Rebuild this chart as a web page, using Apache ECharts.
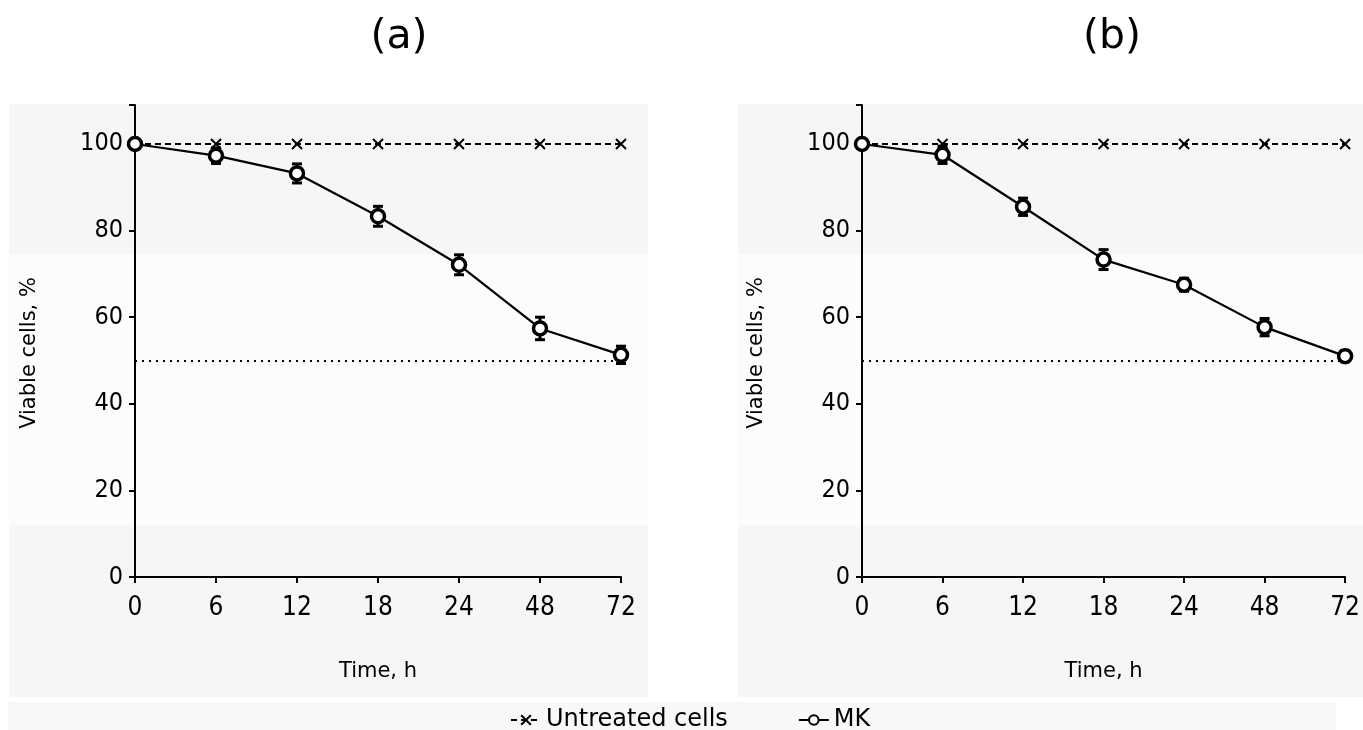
<!DOCTYPE html>
<html>
<head>
<meta charset="utf-8">
<script src="https://cdn.jsdelivr.net/npm/echarts@6/dist/echarts.min.js"></script>
<style>
  html, body { margin: 0; padding: 0; background: #fff; }
  #chart { width: 1363px; height: 730px; }
</style>
</head>
<body>
<div id="chart"></div>
<script>
// time points (h) and tick labels
const times = ['0', '6', '12', '18', '24', '48', '72'];
const yTicks = [0, 20, 40, 60, 80, 100];

// untreated control
const untreated = [100, 100, 100, 100, 100, 100, 100];

// panel (a) MK
const mkA = [100, 97.3, 93.2, 83.3, 72.1, 57.4, 51.3];
const errA = [0, 1.8, 2.2, 2.3, 2.3, 2.6, 2.0];

// panel (b) MK
const mkB = [100, 97.5, 85.5, 73.3, 67.5, 57.7, 51.0];
const errB = [0, 2.0, 2.0, 2.3, 1.5, 2.0, 1.3];

const halfLine = 50;

const myChart = echarts.init(document.getElementById('chart'));

const FONT = 'DejaVu Sans';
const NUMFONT = '"Liberation Sans Narrow", "DejaVu Sans Condensed", "Liberation Sans"';

function errData(mean, err) {
    return mean.map((v, i) => [i, v - err[i], v + err[i], err[i]]);
}

// draw error bar with caps
function renderErr(params, api) {
    if (api.value(3) === 0) return;
    const lo = api.coord([api.value(0), api.value(1)]);
    const hi = api.coord([api.value(0), api.value(2)]);
    const w = 5;
    const style = { stroke: '#000', lineWidth: 3 };
    return {
        type: 'group',
        children: [
            { type: 'line', shape: { x1: lo[0], y1: lo[1], x2: hi[0], y2: hi[1] }, style: style },
            { type: 'line', shape: { x1: lo[0] - w, y1: lo[1], x2: lo[0] + w, y2: lo[1] }, style: style },
            { type: 'line', shape: { x1: hi[0] - w, y1: hi[1], x2: hi[0] + w, y2: hi[1] }, style: style }
        ]
    };
}

function xAxisCfg(idx) {
    return {
        type: 'category',
        gridIndex: idx,
        data: times,
        boundaryGap: false,
        name: 'Time, h',
        nameLocation: 'middle',
        nameGap: 84,
        nameTextStyle: { color: '#000', fontSize: 21, fontFamily: FONT },
        axisLine: { lineStyle: { color: '#000', width: 2 } },
        axisTick: { show: true, alignWithLabel: true, length: 6, lineStyle: { color: '#000', width: 2 } },
        axisLabel: { color: '#000', fontSize: 26, fontFamily: NUMFONT, margin: 18 },
        splitLine: { show: false }
    };
}

function yAxisCfg(idx) {
    return {
        type: 'value',
        gridIndex: idx,
        min: 0,
        max: 109,
        interval: 20,
        name: 'Viable cells, %',
        nameLocation: 'middle',
        nameGap: 95,
        nameTextStyle: { color: '#000', fontSize: 21, fontFamily: FONT, padding: [0, 24, 0, 0] },
        axisLine: { show: true, lineStyle: { color: '#000', width: 2 } },
        axisTick: { show: true, length: 6, lineStyle: { color: '#000', width: 2 } },
        axisLabel: {
            color: '#000', fontSize: 25, fontFamily: NUMFONT, margin: 12,
            formatter: v => (yTicks.indexOf(v) >= 0 ? String(v) : '')
        },
        splitLine: { show: false }
    };
}

function seriesFor(idx, mk, err) {
    return [
        {
            name: 'Untreated cells',
            type: 'line',
            xAxisIndex: idx,
            yAxisIndex: idx,
            data: untreated,
            symbol: 'path://M0,0L10,10M10,0L0,10',
            symbolSize: 10,
            itemStyle: { color: '#000', borderColor: '#000', borderWidth: 2 },
            lineStyle: { color: '#000', width: 2, type: [6, 4] },
            z: 3
        },
        {
            name: 'errbar' + idx,
            type: 'custom',
            xAxisIndex: idx,
            yAxisIndex: idx,
            data: errData(mk, err),
            renderItem: renderErr,
            z: 4,
            silent: true
        },
        {
            name: 'MK',
            type: 'line',
            xAxisIndex: idx,
            yAxisIndex: idx,
            data: mk,
            symbol: 'circle',
            symbolSize: 13,
            itemStyle: { color: '#fff', borderColor: '#000', borderWidth: 3.5 },
            lineStyle: { color: '#000', width: 2.2 },
            z: 5,
            markLine: {
                silent: true,
                symbol: 'none',
                label: { show: false },
                lineStyle: { color: '#000', width: 2, type: [2, 5] },
                data: [{ yAxis: halfLine }]
            }
        }
    ];
}

const option = {
    backgroundColor: '#fff',
    animation: false,
    // grey panel backgrounds with faint bands
    graphic: [
        { type: 'rect', shape: { x: 9, y: 104, width: 639, height: 593 }, style: { fill: '#f6f6f6' }, z: -10 },
        { type: 'rect', shape: { x: 9, y: 254, width: 639, height: 271 }, style: { fill: '#fcfcfc' }, z: -9 },
        { type: 'rect', shape: { x: 738, y: 104, width: 625, height: 593 }, style: { fill: '#f6f6f6' }, z: -10 },
        { type: 'rect', shape: { x: 738, y: 254, width: 625, height: 271 }, style: { fill: '#fcfcfc' }, z: -9 },
        { type: 'rect', shape: { x: 8, y: 702, width: 1328, height: 28 }, style: { fill: '#f8f8f8' }, z: -10 }
    ],
    title: [
        { text: '(a)', left: 394, top: 12, textAlign: 'center', textStyle: { fontSize: 41, fontWeight: 'normal', fontFamily: FONT, color: '#000' } },
        { text: '(b)', left: 1107, top: 12, textAlign: 'center', textStyle: { fontSize: 41, fontWeight: 'normal', fontFamily: FONT, color: '#000' } }
    ],
    legend: {
        data: ['Untreated cells', 'MK'],
        left: 505,
        top: 703,
        itemWidth: 30,
        itemHeight: 12,
        itemGap: 70,
        textStyle: { color: '#000', fontSize: 24, fontFamily: FONT },
        selectedMode: false
    },
    grid: [
        { left: 135, top: 105, width: 486, height: 472 },
        { left: 862, top: 105, width: 488, height: 472 }
    ],
    xAxis: [xAxisCfg(0), xAxisCfg(1)],
    yAxis: [yAxisCfg(0), yAxisCfg(1)],
    series: [...seriesFor(0, mkA, errA), ...seriesFor(1, mkB, errB)]
};

myChart.setOption(option);
</script>
</body>
</html>
